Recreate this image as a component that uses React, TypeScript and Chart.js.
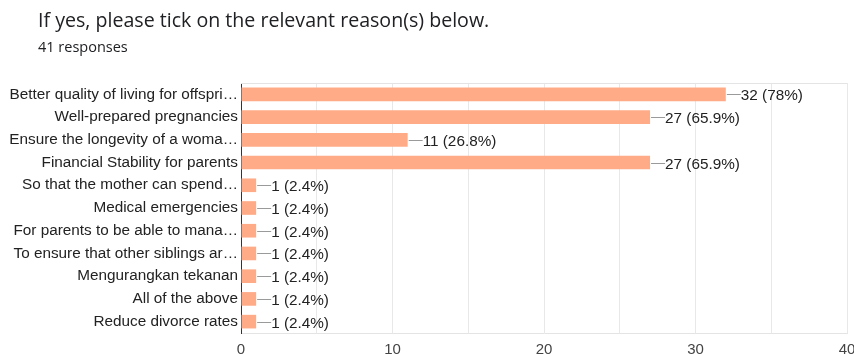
import React, { useEffect, useRef } from "react";
import { Chart, registerables } from "chart.js";

Chart.register(...registerables);

const title = "If yes, please tick on the relevant reason(s) below.";
const subtitle = "41 responses";
const totalResponses = 41;

const categories = [
  "Better quality of living for offspri…",
  "Well-prepared pregnancies",
  "Ensure the longevity of a woma…",
  "Financial Stability for parents",
  "So that the mother can spend…",
  "Medical emergencies",
  "For parents to be able to mana…",
  "To ensure that other siblings ar…",
  "Mengurangkan tekanan",
  "All of the above",
  "Reduce divorce rates",
];

const counts = [32, 27, 11, 27, 1, 1, 1, 1, 1, 1, 1];

const xTickValues = [0, 10, 20, 30, 40];

const BAR_COLOR = "#ffab88";
const FONT = "'Liberation Sans', Arial, sans-serif";

function pctLabel(v: number): string {
  const p = (v / totalResponses) * 100;
  let s = p.toFixed(1);
  if (s.endsWith(".0")) s = s.slice(0, -2);
  return `${v} (${s}%)`;
}

const valueLabelPlugin = {
  id: "valueLabels",
  beforeDatasetsDraw(chart: any) {
    const { ctx, chartArea } = chart;
    ctx.save();
    ctx.strokeStyle = "#e4e4e4";
    ctx.lineWidth = 1;
    ctx.beginPath();
    ctx.moveTo(chartArea.left, Math.round(chartArea.top) + 0.5);
    ctx.lineTo(chartArea.right, Math.round(chartArea.top) + 0.5);
    ctx.stroke();
    ctx.restore();
  },
  afterDatasetsDraw(chart: any) {
    const { ctx } = chart;
    const meta = chart.getDatasetMeta(0);
    ctx.save();
    ctx.font = `15.3px ${FONT}`;
    ctx.textBaseline = "middle";
    ctx.textAlign = "left";
    meta.data.forEach((bar: any, i: number) => {
      const x = bar.x;
      const y = Math.round(bar.y) + 0.5;
      ctx.strokeStyle = "#9a9a9a";
      ctx.lineWidth = 1;
      ctx.beginPath();
      ctx.moveTo(x + 1, y);
      ctx.lineTo(x + 15, y);
      ctx.stroke();
      ctx.fillStyle = "#222222";
      ctx.fillText(pctLabel(counts[i]), x + 15, y + 1);
    });
    ctx.restore();
  },
};

export default function App() {
  const ref = useRef<HTMLCanvasElement | null>(null);

  useEffect(() => {
    if (!ref.current) return;
    const chart = new Chart(ref.current, {
      type: "bar",
      data: {
        labels: categories,
        datasets: [
          {
            data: counts,
            backgroundColor: BAR_COLOR,
            borderWidth: 0,
            barPercentage: 0.6,
            categoryPercentage: 1,
          },
        ],
      },
      plugins: [valueLabelPlugin],
      options: {
        indexAxis: "y",
        animation: false,
        responsive: false,
        maintainAspectRatio: false,
        layout: { padding: { top: 83, right: 7, left: 0, bottom: 0 } },
        plugins: {
          legend: { display: false },
          tooltip: { enabled: false },
          title: { display: false },
        },
        scales: {
          x: {
            min: 0,
            max: 40,
            afterBuildTicks(scale: any) {
              const t: any[] = [];
              for (let v = 0; v <= 40; v += 5) t.push({ value: v });
              scale.ticks = t;
            },
            afterFit(scale: any) {
              scale.height = 30;
              scale.paddingLeft = 0;
              scale.paddingRight = 0;
            },
            ticks: {
              autoSkip: false,
              maxRotation: 0,
              padding: 8,
              color: "#444444",
              font: { family: FONT, size: 15 },
              callback: (v: any) => (xTickValues.includes(Number(v)) ? String(v) : ""),
            },
            grid: { color: "#e8e8e8", drawTicks: false },
            border: { color: "#e4e4e4", width: 1 },
          },
          y: {
            afterFit(scale: any) {
              scale.width = 241;
              scale.paddingTop = 0;
              scale.paddingBottom = 0;
            },
            ticks: {
              padding: 3,
              color: "#222222",
              font: { family: FONT, size: 15.3 },
              autoSkip: false,
            },
            grid: { display: false, drawTicks: false },
            border: { color: "#333333", width: 1 },
          },
        },
      },
    } as any);
    return () => chart.destroy();
  }, []);

  return (
    <div style={{ position: "absolute", left: 0, top: 0, width: 854, height: 354, overflow: "hidden", background: "#fff" }}>
      <canvas ref={ref} width={854} height={363} style={{ position: "absolute", left: 0, top: 0 }} />
      <div
        style={{
          position: "absolute",
          left: 38,
          top: 7,
          fontFamily: "'Open Sans', Roboto, sans-serif",
          fontSize: 19.6,
          color: "#202124",
          whiteSpace: "nowrap",
          lineHeight: "26px",
        }}
      >
        {title}
      </div>
      <div
        style={{
          position: "absolute",
          left: 38,
          top: 37,
          fontFamily: "'Open Sans', Roboto, sans-serif",
          fontSize: 14.5,
          color: "#202124",
          whiteSpace: "nowrap",
          lineHeight: "20px",
        }}
      >
        {subtitle}
      </div>
    </div>
  );
}
